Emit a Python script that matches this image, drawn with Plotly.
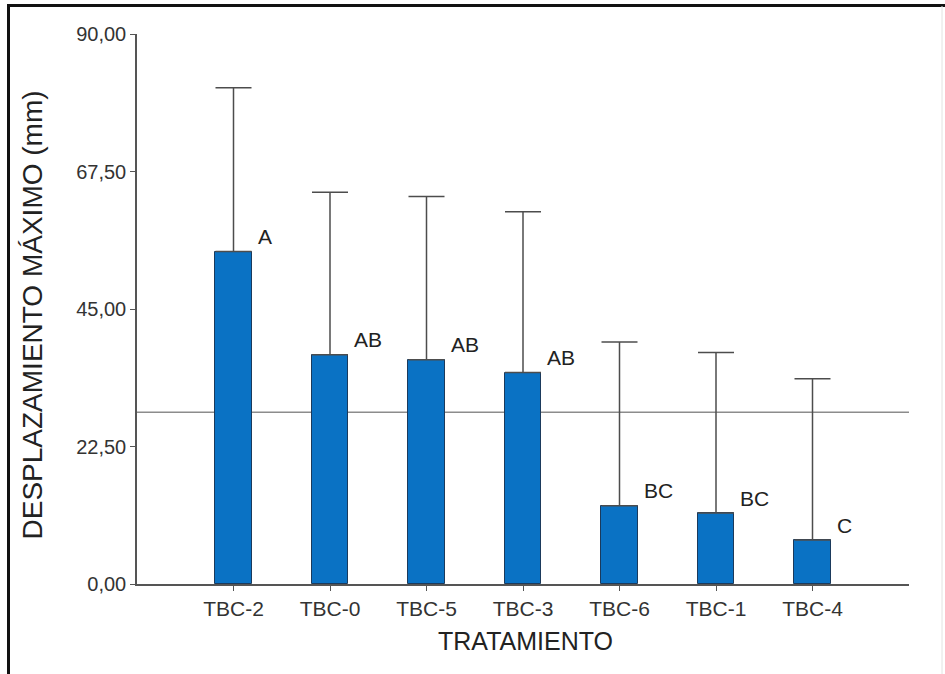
import plotly.graph_objects as go

# Treatment means, upper whisker limits and Tukey grouping letters
tratamientos = ["TBC-2", "TBC-0", "TBC-5", "TBC-3", "TBC-6", "TBC-1", "TBC-4"]
desplazamiento = [54.4, 37.5, 36.7, 34.6, 12.8, 11.6, 7.2]
limite_superior = [81.2, 64.1, 63.4, 60.9, 39.6, 37.9, 33.6]
grupos = ["A", "AB", "AB", "AB", "BC", "BC", "C"]
media_general = 28.1
y_ticks = [0, 22.5, 45, 67.5, 90]

FONT = "Liberation Sans, Arial, sans-serif"
BAR_COLOR = "#0a72c4"
AXIS_COLOR = "#555555"

W, H = 945, 674
ML, MR, MT, MB = 137, 36, 34, 90
PW, PH = W - ML - MR, H - MT - MB


def px_to_paper_x(px):
    return (px - ML) / PW


def px_to_paper_y(py):
    return (H - MB - py) / PH


fig = go.Figure()

fig.add_trace(go.Bar(
    x=tratamientos,
    y=desplazamiento,
    width=0.38,
    marker=dict(color=BAR_COLOR, line=dict(color="#1b3a5c", width=1)),
    error_y=dict(
        type="data",
        symmetric=False,
        array=[u - m for u, m in zip(limite_superior, desplazamiento)],
        arrayminus=[0] * len(desplazamiento),
        color="#4d4d4d",
        thickness=1.5,
        width=18,
    ),
    showlegend=False,
    hoverinfo="x+y",
))

# Grouping letters beside each bar top
for t, v, g in zip(tratamientos, desplazamiento, grupos):
    fig.add_annotation(
        x=t, y=v, text=g, showarrow=False,
        xanchor="left", yanchor="middle",
        xshift=22, yshift=15,
        font=dict(family=FONT, size=21, color="#222222"),
    )

# Overall mean reference line
fig.add_shape(
    type="line", xref="paper", yref="y",
    x0=0, x1=1, y0=media_general, y1=media_general,
    line=dict(color="#8c8c8c", width=1.5),
    layer="below",
)

# Axis titles
fig.add_annotation(
    xref="paper", yref="paper",
    x=px_to_paper_x(31.5), y=px_to_paper_y(315),
    text="DESPLAZAMIENTO MÁXIMO (mm)", textangle=-90, showarrow=False,
    xanchor="center", yanchor="middle",
    font=dict(family=FONT, size=28, color="#222222"),
)
fig.add_annotation(
    xref="paper", yref="paper",
    x=px_to_paper_x(525.5), y=px_to_paper_y(640.5),
    text="TRATAMIENTO", showarrow=False,
    xanchor="center", yanchor="middle",
    font=dict(family=FONT, size=25, color="#222222"),
)

# Outer frame: heavy top and left edges, faint right edge
fig.add_shape(type="line", xref="paper", yref="paper",
              x0=px_to_paper_x(8), x1=px_to_paper_x(945),
              y0=px_to_paper_y(5.5), y1=px_to_paper_y(5.5),
              line=dict(color="#111111", width=3))
fig.add_shape(type="line", xref="paper", yref="paper",
              x0=px_to_paper_x(8.5), x1=px_to_paper_x(8.5),
              y0=px_to_paper_y(4), y1=px_to_paper_y(680),
              line=dict(color="#111111", width=3))
fig.add_shape(type="line", xref="paper", yref="paper",
              x0=px_to_paper_x(942), x1=px_to_paper_x(942),
              y0=px_to_paper_y(6), y1=px_to_paper_y(680),
              line=dict(color="#e2e2e2", width=1))

fig.update_layout(
    width=W, height=H,
    margin=dict(l=ML, r=MR, t=MT, b=MB, pad=0),
    paper_bgcolor="white",
    plot_bgcolor="white",
    separators=",.",
    font=dict(family=FONT, color="#333333"),
    bargap=0,
    xaxis=dict(
        type="category",
        categoryorder="array",
        categoryarray=tratamientos,
        range=[-1, 7],
        showline=True, linecolor=AXIS_COLOR, linewidth=1.5,
        ticks="outside", ticklen=5, tickwidth=1, tickcolor=AXIS_COLOR,
        tickfont=dict(family=FONT, size=21, color="#333333"),
        showgrid=False, zeroline=False,
        fixedrange=True,
    ),
    yaxis=dict(
        range=[0, 90],
        tickvals=y_ticks,
        tickformat=".2f",
        showline=True, linecolor=AXIS_COLOR, linewidth=1.5,
        ticks="outside", ticklen=5, tickwidth=1, tickcolor=AXIS_COLOR,
        tickfont=dict(family=FONT, size=20, color="#333333"),
        showgrid=False, zeroline=False,
        fixedrange=True,
    ),
)

fig.write_html("out.html")
